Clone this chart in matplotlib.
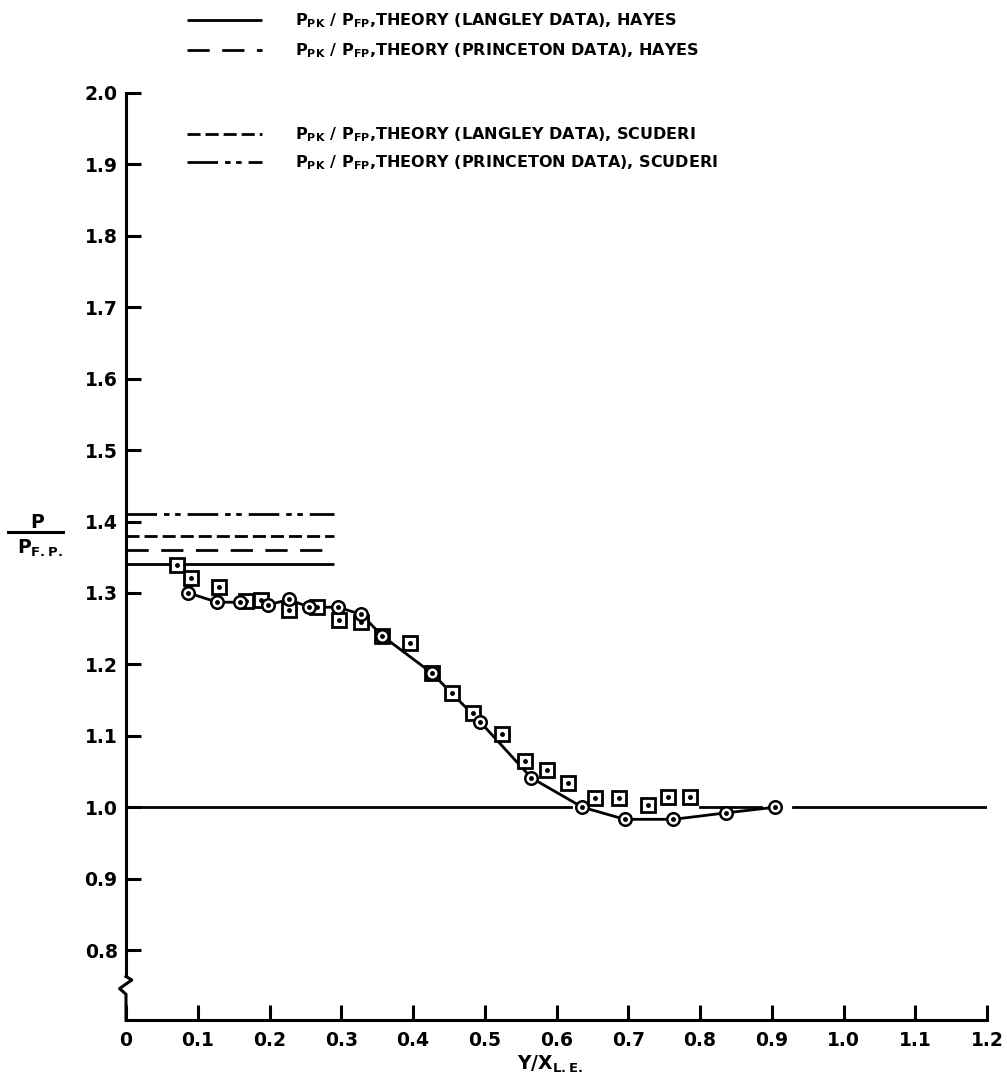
import matplotlib
matplotlib.use("Agg")
import matplotlib.pyplot as plt
from matplotlib.lines import Line2D

# measured pressure ratio, circles (faired curve goes through these)
circle_x = [0.087, 0.127, 0.159, 0.198, 0.227, 0.255, 0.295, 0.328, 0.357,
            0.426, 0.494, 0.565, 0.636, 0.695, 0.763, 0.836, 0.905]
circle_y = [1.300, 1.287, 1.287, 1.283, 1.291, 1.280, 1.280, 1.270, 1.240,
            1.188, 1.119, 1.041, 1.000, 0.983, 0.983, 0.992, 1.000]

# measured pressure ratio, squares
square_x = [0.071, 0.091, 0.129, 0.167, 0.188, 0.227, 0.266, 0.297, 0.328,
            0.357, 0.396, 0.426, 0.455, 0.484, 0.524, 0.556, 0.587, 0.616,
            0.654, 0.687, 0.727, 0.756, 0.786]
square_y = [1.339, 1.321, 1.308, 1.289, 1.290, 1.276, 1.280, 1.262, 1.259,
            1.240, 1.230, 1.188, 1.160, 1.132, 1.102, 1.065, 1.052, 1.034,
            1.013, 1.013, 1.003, 1.014, 1.014]

# theory levels, drawn from y/x = 0 to theory_xmax
theory_xmax = 0.29
theory_levels = [1.34, 1.36, 1.38, 1.41]
theory_labels = [
    r"P$_{PK}$ / P$_{FP}$,THEORY (LANGLEY DATA), HAYES",
    r"P$_{PK}$ / P$_{FP}$,THEORY (PRINCETON DATA), HAYES",
    r"P$_{PK}$ / P$_{FP}$,THEORY (LANGLEY DATA), SCUDERI",
    r"P$_{PK}$ / P$_{FP}$,THEORY (PRINCETON DATA), SCUDERI",
]
theory_styles = ["-", (0, (8, 4.5)), (0, (4.7, 1.8)), (0, (11, 2.5, 2, 2, 2, 2.5))]

# flat-plate reference line p/p_fp = 1, broken around the data
ref_segments = [(0.0, 0.62), (0.80, 0.885), (0.93, 1.2)]

xticks = [0.0, 0.1, 0.2, 0.3, 0.4, 0.5, 0.6, 0.7, 0.8, 0.9, 1.0, 1.1, 1.2]
xticklabels = ["0", "0.1", "0.2", "0.3", "0.4", "0.5", "0.6", "0.7", "0.8",
               "0.9", "1.0", "1.1", "1.2"]
yticks = [0.8, 0.9, 1.0, 1.1, 1.2, 1.3, 1.4, 1.5, 1.6, 1.7, 1.8, 1.9, 2.0]


def main():
    plt.rcParams["font.family"] = "DejaVu Sans"
    plt.rcParams["font.weight"] = "bold"
    plt.rcParams["mathtext.default"] = "bf"

    W, H = 1007, 1085
    fig = plt.figure(figsize=(W / 100, H / 100), dpi=100, facecolor="white")
    ax = fig.add_axes([126 / W, 1 - 1020 / H, (987 - 126) / W, (1020 - 93) / H])
    ax.set_xlim(0, 1.2)
    ax.set_ylim(0.702, 2.0)

    lw = 2.0
    # theory lines
    for lev, ls in zip(theory_levels, theory_styles):
        ax.plot([0, theory_xmax], [lev, lev], color="black", lw=lw, ls=ls,
                solid_capstyle="butt", zorder=2)

    for x0, x1 in ref_segments:
        ax.plot([x0, x1], [1.0, 1.0], color="black", lw=lw, zorder=2)

    # faired curve
    ax.plot(circle_x, circle_y, color="black", lw=lw, zorder=3)

    # data symbols
    ax.plot(square_x, square_y, ls="none", marker="s", ms=10, mfc="white",
            mec="black", mew=2.0, zorder=4)
    ax.plot(square_x, square_y, ls="none", marker="o", ms=2.5, color="black",
            zorder=5)
    ax.plot(circle_x, circle_y, ls="none", marker="o", ms=9, mfc="white",
            mec="black", mew=1.8, zorder=6)
    ax.plot(circle_x, circle_y, ls="none", marker="o", ms=2.5, color="black",
            zorder=7)

    # axes look
    for s in ["top", "right"]:
        ax.spines[s].set_visible(False)
    for s in ["left", "bottom"]:
        ax.spines[s].set_linewidth(2.2)
        ax.spines[s].set_capstyle("projecting")
    ax.spines["left"].set_bounds(0.763, 2.0)
    # axis break on the y axis
    ax.plot([0, 0.008, -0.009, 0, 0], [0.763, 0.758, 0.746, 0.738, 0.702],
            color="black", lw=2.2, clip_on=False, zorder=8)

    ax.set_xticks(xticks)
    ax.set_xticklabels(xticklabels)
    ax.set_yticks(yticks)
    ax.set_yticklabels([f"{v:.1f}" for v in yticks])
    ax.tick_params(direction="in", length=11, width=2.2, labelsize=13.5)
    ax.tick_params(axis="x", pad=8)
    ax.tick_params(axis="y", pad=6)

    # legend, drawn by hand at the top
    def px(x, y):
        return x / W, 1 - y / H

    rows_y = [20, 50, 134, 162]
    for y, ls, lab in zip(rows_y, theory_styles, theory_labels):
        (x0, yy), (x1, _) = px(187, y), px(262, y)
        fig.add_artist(Line2D([x0, x1], [yy, yy], color="black", lw=lw, ls=ls,
                              solid_capstyle="butt"))
        tx, ty = px(295, y + 1)
        fig.text(tx, ty, lab, fontsize=11.5, fontweight="bold", va="center",
                 ha="left")

    # y label as a stacked fraction
    fig.text(*px(37, 522), "P", fontsize=13.5, fontweight="bold",
             ha="center", va="center")
    (x0, yy), (x1, _) = px(8, 532), px(63, 532)
    fig.add_artist(Line2D([x0, x1], [yy, yy], color="black", lw=2.2))
    fig.text(*px(17, 548), r"P$_{F.P.}$", fontsize=13.5, fontweight="bold",
             ha="left", va="center")

    # x label
    fig.text(*px(517, 1064), r"Y/X$_{L.E.}$", fontsize=13.5, fontweight="bold",
             ha="left", va="center")

    fig.savefig("out.png", dpi=100, facecolor="white")


if __name__ == "__main__":
    main()
